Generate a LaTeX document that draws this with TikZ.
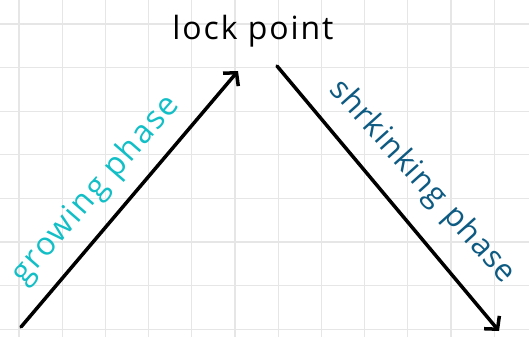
\documentclass[tikz,border=0pt]{standalone}
\usepackage{fontspec}
\setmainfont{Open Sans}
\newfontfamily\handfont[LetterSpace=6]{Open Sans}
\newfontfamily\handfontb[LetterSpace=3]{Open Sans}
\usetikzlibrary{arrows.meta}
\definecolor{gridgray}{HTML}{E6E6E6}
\definecolor{growcol}{HTML}{12BFC7}
\definecolor{shrinkcol}{HTML}{0D5A82}
\tikzset{
  gridline/.style={draw=gridgray, line width=1.2pt},
  arrowline/.style={draw=black, line width=3.5pt, line cap=round, -{Straight Barb[length=9pt,width=20pt,line width=3.5pt]}},
  hand/.style={inner sep=0pt, font=\handfont\fontsize{32}{32}\selectfont},
  handb/.style={inner sep=0pt, font=\handfontb\fontsize{31}{31}\selectfont},
}
\begin{document}
\begin{tikzpicture}[x=1pt,y=-1pt]
\useasboundingbox (0,0) rectangle (529,337);
\fill[white] (0,0) rectangle (529,337);
\foreach \i in {0,...,11} { \draw[gridline] ({19+43.2*\i},0) -- ({19+43.2*\i},337); }
\foreach \j in {0,...,7} { \draw[gridline] (0,{24+43.6*\j}) -- (529,{24+43.6*\j}); }
\node[hand, anchor=base] (lock) at (253,40) {lock point};
\coordinate (g0) at (21,327);
\coordinate (g1) at (238,71);
\coordinate (s0) at (277,66);
\coordinate (s1) at (499,331);
\draw[arrowline] (g0) -- (g1);
\draw[arrowline] (s0) -- (s1);
\node[hand, text=growcol, rotate=49] (grow) at (96,190) {growing phase};
\node[handb, text=shrinkcol, rotate=-48] (shrink) at (422,182) {shrkinking\ \hspace{3pt}phase};
\end{tikzpicture}
\end{document}
